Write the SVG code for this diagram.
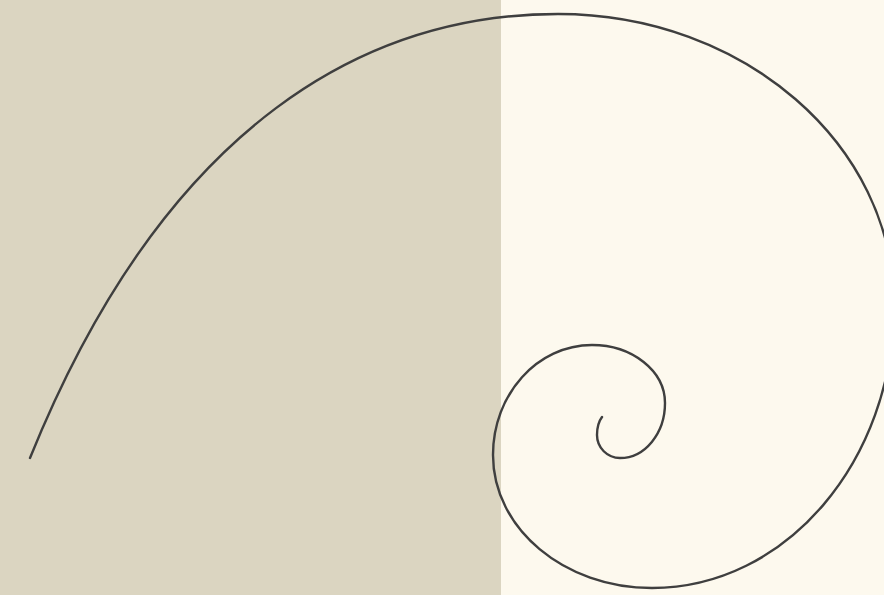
<svg xmlns="http://www.w3.org/2000/svg" width="884" height="595" viewBox="0 0 884 595">
  <style>
    .spiral { fill: none; stroke: #3f3f3f; stroke-width: 2.4; stroke-linecap: round; stroke-linejoin: round; }
  </style>
  <rect id="right-panel" x="0" y="0" width="884" height="595" fill="#fdf9ee"/>
  <rect id="left-panel" x="0" y="0" width="501" height="595" fill="#dbd5c1"/>
  <g id="spiral">
    <path class="spiral" d="M30,458 C168,117 372,14 558,14 C743.6,14 894,144.3 894,305 C894,461.3 785.7,588 652,588 C564.2,588 493,528.5 493,455 C493,394.2 537.3,345 592,345 C632.3,345 665,371 665,403 C665,433.4 644.9,458 620,458 C607.3,458 597,447.7 597,435 C597,428 599,421 602,417"/>
  </g>
</svg>
